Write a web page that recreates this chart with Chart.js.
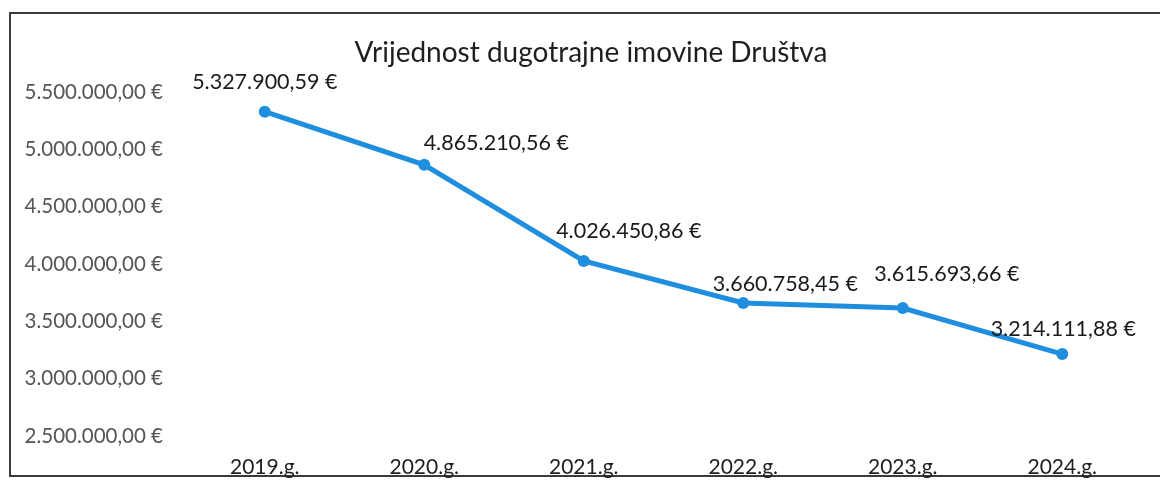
<!DOCTYPE html>
<html>
<head>
<meta charset="utf-8">
<script src="https://cdn.jsdelivr.net/npm/chart.js@4/dist/chart.umd.min.js"></script>
<style>
  html, body { margin: 0; padding: 0; background: #fff; }
  #wrap { position: relative; width: 1160px; height: 480px; overflow: hidden; }
  #frame { position: absolute; left: 9px; top: 12px; width: 1200px; height: 465px;
           border: 2px solid #3a3a3a; box-sizing: border-box; }
  canvas { position: absolute; left: 0; top: 0; }
</style>
</head>
<body>
<div id="wrap">
  <div id="frame"></div>
  <canvas id="c" width="1160" height="480"></canvas>
</div>
<script>
const title = 'Vrijednost dugotrajne imovine Društva';
const categories = ['2019.g.', '2020.g.', '2021.g.', '2022.g.', '2023.g.', '2024.g.'];
const values = [5327900.59, 4865210.56, 4026450.86, 3660758.45, 3615693.66, 3214111.88];
const valueLabels = ['5.327.900,59 €', '4.865.210,56 €', '4.026.450,86 €', '3.660.758,45 €', '3.615.693,66 €', '3.214.111,88 €'];
const yMin = 2500000, yMax = 5500000, yStep = 500000;

// label placement offsets (px) relative to each point
const labelOffsets = [[0, -30], [72, -22], [45, -30], [42, -19], [44, -34], [1, -25]];

function fmtEuro(v) {
  const s = Math.round(v).toString().replace(/\B(?=(\d{3})+(?!\d))/g, '.');
  return s + ',00 €';
}

const FONT = 'Lato, "Open Sans", sans-serif';

const overlay = {
  id: 'overlay',
  afterDatasetsDraw(chart) {
    const ctx = chart.ctx;
    ctx.save();
    ctx.fillStyle = '#1e1e1e';
    ctx.font = '28px ' + FONT;
    ctx.textAlign = 'center';
    ctx.textBaseline = 'middle';
    ctx.fillText(title, 591, 53);
    const meta = chart.getDatasetMeta(0);
    ctx.font = '21.5px ' + FONT;
    ctx.fillStyle = '#1a1a1a';
    meta.data.forEach((pt, i) => {
      const o = labelOffsets[i];
      ctx.fillText(valueLabels[i], pt.x + o[0], pt.y + o[1]);
    });
    ctx.restore();
  }
};

new Chart(document.getElementById('c'), {
  type: 'line',
  data: {
    labels: categories,
    datasets: [{
      data: values,
      borderColor: '#1f8ede',
      backgroundColor: '#1f8ede',
      borderWidth: 5,
      pointRadius: 6,
      pointBackgroundColor: '#1f8ede',
      pointBorderWidth: 0,
      tension: 0
    }]
  },
  options: {
    responsive: false,
    animation: false,
    layout: { padding: { left: 0, right: 18, top: 92, bottom: 0 } },
    plugins: { legend: { display: false }, tooltip: { enabled: false }, title: { display: false } },
    scales: {
      x: {
        offset: true,
        grid: { display: false, drawTicks: false },
        border: { display: false },
        ticks: { color: '#1e1e1e', font: { family: FONT, size: 21 }, padding: 19, maxRotation: 0 },
        afterFit(s) { s.height = 44; }
      },
      y: {
        min: yMin, max: yMax,
        grid: { display: false, drawTicks: false },
        border: { display: false },
        ticks: { stepSize: yStep, color: '#555', font: { family: FONT, size: 20.5 }, padding: 22,
                 callback: v => fmtEuro(v) },
        afterFit(s) { s.width = 185; }
      }
    }
  },
  plugins: [overlay]
});
</script>
</body>
</html>
